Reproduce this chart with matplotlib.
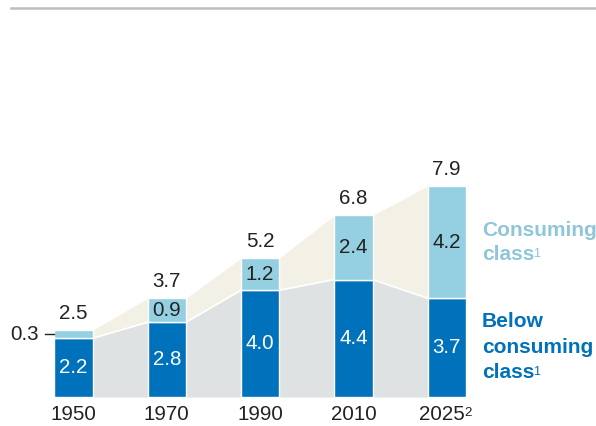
import numpy as np
import matplotlib.pyplot as plt

plt.rcParams['font.family'] = ['Liberation Sans', 'DejaVu Sans']

years = ['1950', '1970', '1990', '2010', '2025']
below = [2.2, 2.8, 4.0, 4.4, 3.7]
consuming = [0.3, 0.9, 1.2, 2.4, 4.2]
totals = [2.5, 3.7, 5.2, 6.8, 7.9]

dark_blue = '#0071bb'
light_blue = '#95d0e2'
legend_light = '#8fc6da'
gray_area = '#dfe2e2'
beige_area = '#f3f1e6'
txt = '#222222'

fig = plt.figure(figsize=(5.96, 4.26), dpi=100)
ax = fig.add_axes([0, 0, 1, 1])
ax.set_xlim(-0.788, 5.6)
ax.set_ylim(-1.086, 14.87)
ax.axis('off')

x = np.arange(len(years))
w = 0.41
hw = w / 2
below = np.array(below)
consuming = np.array(consuming)
top = below + consuming

# shaded areas between bars
xs, yb, yt = [], [], []
for i in range(len(x)):
    xs += [x[i] - hw, x[i] + hw]
    yb += [below[i], below[i]]
    yt += [top[i], top[i]]
ax.fill_between(xs, 0, yb, color=gray_area, lw=0, zorder=1)
ax.fill_between(xs, yb, yt, color=beige_area, lw=0, zorder=1)
ax.plot(xs, yb, color='white', lw=1.2, zorder=1.5)

ax.bar(x, below, w, color=dark_blue, edgecolor='white', lw=1, zorder=2)
ax.bar(x, consuming, w, bottom=below, color=light_blue, edgecolor='white', lw=1, zorder=2)

fs = 14.8
for i in range(len(x)):
    ax.text(x[i], below[i] / 2, f'{below[i]:.1f}', color='white', fontsize=fs,
            ha='center', va='center', zorder=3)
    if consuming[i] >= 0.5:
        ax.text(x[i], below[i] + consuming[i] / 2, f'{consuming[i]:.1f}', color=txt,
                fontsize=fs, ha='center', va='center', zorder=3)
    ax.text(x[i], totals[i] + 0.28, f'{totals[i]:.1f}', color=txt, fontsize=fs,
            ha='center', va='bottom', zorder=3)
    t = ax.text(x[i] - (0.05 if i == len(x) - 1 else 0), -0.66, years[i], color=txt,
                fontsize=fs, ha='center', va='center')
    if i == len(x) - 1:
        ax.annotate('2', xy=(1.0, 0.9), xycoords=t, xytext=(-0.5, 0),
                    textcoords='offset points', fontsize=9.5, color=txt,
                    ha='left', va='top')

# small segment label for 1950
ax.text(-0.68, below[0] + consuming[0] / 2, f'{consuming[0]:.1f}', color=txt,
        fontsize=fs, ha='left', va='center')
ax.plot([-0.31, -0.21], [below[0] + consuming[0] / 2] * 2, color=txt, lw=1)

# legend labels
lx = 4.378
for yy, s, sup, col in [(6.25, 'Consuming', False, legend_light),
                        (5.32, 'class', True, legend_light),
                        (2.81, 'Below', False, dark_blue),
                        (1.84, 'consuming', False, dark_blue),
                        (0.90, 'class', True, dark_blue)]:
    t = ax.text(lx, yy, s, color=col, fontsize=15, fontweight='bold',
                ha='left', va='center')
    if sup:
        ax.annotate('1', xy=(1.0, 0.88), xycoords=t, xytext=(-1, 0),
                    textcoords='offset points', fontsize=9, color=col,
                    ha='left', va='top')

# top rule
ax.plot([-0.67, 5.6], [14.58, 14.58], color='#bdbdbd', lw=1.8, clip_on=False)

fig.savefig('out.png', dpi=100)
